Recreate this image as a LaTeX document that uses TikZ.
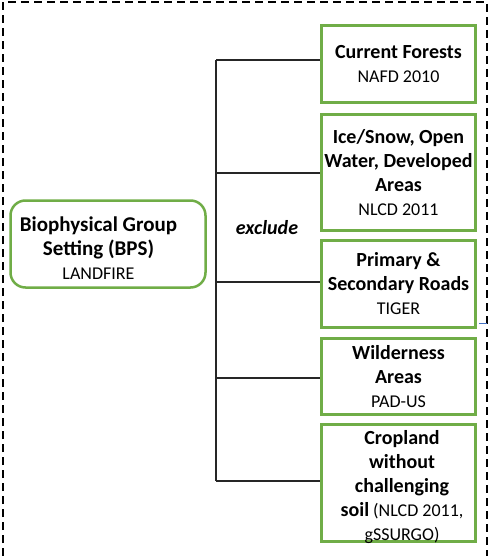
\documentclass[tikz,border=0pt]{standalone}
\usepackage{fontspec}
\setmainfont{Carlito}
\definecolor{boxgreen}{RGB}{112,173,71}
\definecolor{tickblue}{RGB}{68,114,196}
\newcommand{\bt}[1]{{\fontsize{20}{24}\selectfont\bfseries #1}}
\newcommand{\btb}[1]{{\fontsize{21}{24}\selectfont\bfseries #1}}
\begin{document}
\begin{tikzpicture}[x=1pt,y=-1pt,
  greenbox/.style={draw=boxgreen,line width=3pt,minimum width=154pt,inner sep=0pt,align=center,
    font=\fontsize{18}{24}\selectfont},
  tree/.style={draw=black!85,line width=1.3pt},
  frame/.style={draw=black,line width=1.5pt,dash pattern=on 8pt off 5pt}]
\useasboundingbox (0,0) rectangle (490,556);
% dashed frame (open at the bottom)
\draw[frame] (3,556) -- (3,2) -- (487,2) -- (487,556);
% target boxes
\node[greenbox,minimum height=77pt] (b1) at (398.5,64) {\bt{Current Forests}\\NAFD 2010};
\node[greenbox,minimum height=116pt] (b2) at (398.5,172.5) {\bt{Ice/Snow, Open}\\\bt{Water, Developed}\\\bt{Areas}\\NLCD 2011};
\node[greenbox,minimum height=87pt] (b3) at (398.5,284) {\bt{Primary \&}\\\bt{Secondary Roads}\\TIGER};
\node[greenbox,minimum height=76pt] (b4) at (398.5,376.5) {\bt{Wilderness}\\\bt{Areas}\\PAD-US};
\node[greenbox,minimum height=117pt] (b5) at (398.5,483) {};
\node[align=center,font=\fontsize{18}{24}\selectfont] (b5text) at (402,487) {\bt{Cropland}\\\bt{without}\\\bt{challenging}\\\bt{soil} (NLCD 2011,\\gSSURGO)};
% BPS box
\node[draw=boxgreen,line width=2.5pt,rounded corners=15pt,minimum width=195pt,minimum height=87pt] (bps) at (108,244) {};
\node[align=center,font=\fontsize{18}{24}\selectfont] (bpstext) at (98.5,248) {\btb{Biophysical Group}\\\btb{Setting (BPS)}\\LANDFIRE};
% exclude label
\node[font=\fontsize{20}{24}\selectfont\bfseries\itshape] (excl) at (267,228) {exclude};
% tree connectors
\coordinate (t1) at (216,60);
\coordinate (t2) at (216,173);
\coordinate (t3) at (216,282);
\coordinate (t4) at (216,378);
\coordinate (t5) at (216,481);
\draw[tree] (t1) -- (t5);
\draw[tree] (t1) -- (t1 -| b1.west);
\draw[tree] (t2) -- (t2 -| b2.west);
\draw[tree] (t3) -- (t3 -| b3.west);
\draw[tree] (t4) -- (t4 -| b4.west);
\draw[tree] (t5) -- (t5 -| b5.west);
% small blue tick at right
\coordinate (bt1) at (479,323);
\coordinate (bt2) at (487,323);
\draw[tickblue,line width=0.8pt] (bt1) -- (bt2);
\end{tikzpicture}
\end{document}
